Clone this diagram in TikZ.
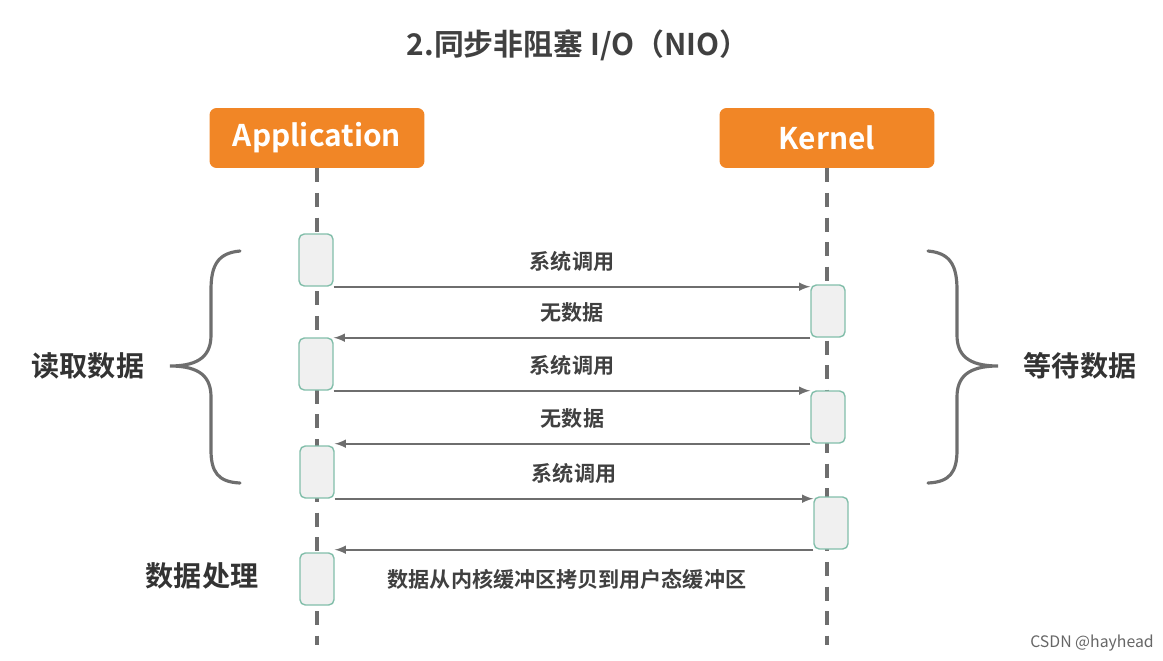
\documentclass[tikz,border=0pt]{standalone}
\usepackage{fontspec}
\setmainfont{Noto Sans CJK SC}[BoldFont={Noto Sans CJK SC Bold}]
\definecolor{boxorange}{RGB}{241,134,38}
\definecolor{stepgreen}{RGB}{130,190,170}
\definecolor{stepfill}{RGB}{240,240,240}
\definecolor{linegray}{RGB}{110,110,110}
\begin{document}
\begin{tikzpicture}[x=0.02cm,y=-0.02cm,
  actor/.style={fill=boxorange,rounded corners=4pt,minimum width=4.3cm,minimum height=1.2cm,text=white,font=\fontsize{17}{20}\selectfont\bfseries},
  stepbox/.style={draw=stepgreen,fill=stepfill,rounded corners=3pt,minimum width=0.68cm,minimum height=1.04cm,line width=0.8pt},
  msg/.style={draw=linegray,line width=1.2pt,-latex},
  lbl/.style={font=\fontsize{12}{14}\selectfont\bfseries,text=black!75},
  side/.style={font=\fontsize{16}{19}\selectfont\bfseries,text=black!80},
  life/.style={draw=linegray,line width=2pt,dash pattern=on 8pt off 6pt},
  brace/.style={draw=linegray,line width=1.8pt,line cap=round}]
\useasboundingbox (0,0) rectangle (1163,660);
\node[font=\fontsize{17}{20}\selectfont\bfseries,text=black!75] (title) at (578,45) {2.同步非阻塞 I/O（NIO）};
\node[actor] (app) at (317,138) {Application};
\node[actor] (ker) at (827,138) {Kernel};
\coordinate (append) at (317,645);
\coordinate (kerend) at (827,645);
\draw[life] (app.south) -- (append);
\draw[life] (ker.south) -- (kerend);
% steps
\node[stepbox] (a1) at (316,260) {};
\node[stepbox] (a2) at (316,364) {};
\node[stepbox] (a3) at (317,472) {};
\node[stepbox] (a4) at (317,579) {};
\node[stepbox] (k1) at (828,311) {};
\node[stepbox] (k2) at (828,417) {};
\node[stepbox] (k3) at (831,523) {};
% messages
\draw[msg] (a1.south east) -- (a1.south east -| k1.west) node[lbl,midway,above=5pt]{系统调用};
\draw[msg] (k1.south west) -- (k1.south west -| a2.east) node[lbl,midway,above=5pt]{无数据};
\draw[msg] (a2.south east) -- (a2.south east -| k2.west) node[lbl,midway,above=5pt]{系统调用};
\draw[msg] (k2.south west) -- (k2.south west -| a3.east) node[lbl,midway,above=5pt]{无数据};
\draw[msg] (a3.south east) -- (a3.south east -| k3.west) node[lbl,midway,above=5pt]{系统调用};
\draw[msg] (k3.south west) -- (k3.south west -| a4.east) node[lbl,midway,below=7pt,xshift=-4pt]{数据从内核缓冲区拷贝到用户态缓冲区};
% braces
\draw[brace] (240,251) .. controls (218,253) and (211,265) .. (211,290) -- (211,335)
  .. controls (211,355) and (200,366) .. (170,366)
  .. controls (200,366) and (211,377) .. (211,397) -- (211,450)
  .. controls (211,472) and (218,482) .. (240,483);
\draw[brace] (928,251) .. controls (950,253) and (957,265) .. (957,290) -- (957,335)
  .. controls (957,355) and (968,366) .. (998,366)
  .. controls (968,366) and (957,377) .. (957,397) -- (957,450)
  .. controls (957,472) and (950,482) .. (928,483);
\node[side] (read) at (88,366) {读取数据};
\node[side] (wait) at (1080,366) {等待数据};
\node[side] (proc) at (202,576) {数据处理};
\node[font=\fontsize{9}{11}\selectfont,text=black!60] (mark) at (1092,643) {CSDN @hayhead};
\end{tikzpicture}
\end{document}
